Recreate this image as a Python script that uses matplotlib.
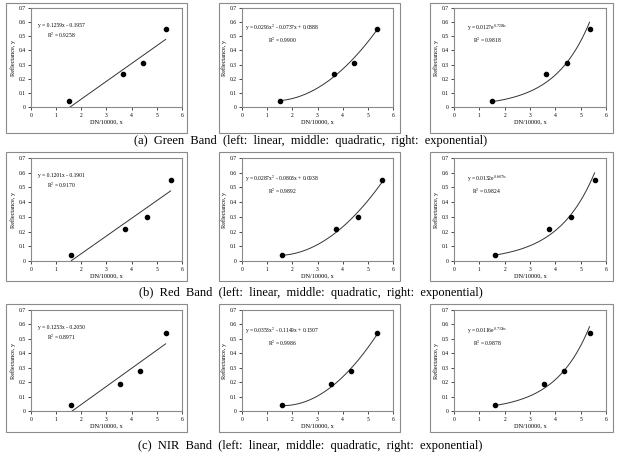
import numpy as np
import matplotlib
matplotlib.use("Agg")
import matplotlib.pyplot as plt
from matplotlib.patches import Rectangle

plt.rcParams['font.family'] = ['Liberation Serif', 'DejaVu Serif']
plt.rcParams['mathtext.fontset'] = 'stix'

BANDS = ['Green', 'Red', 'NIR']
CAPTIONS = [
    '(a)  Green  Band  (left:  linear,  middle:  quadratic,  right:  exponential)',
    '(b)  Red  Band  (left:  linear,  middle:  quadratic,  right:  exponential)',
    '(c)  NIR  Band  (left:  linear,  middle:  quadratic,  right:  exponential)',
]

# measured points per band
green_x = [1.50, 3.65, 4.45, 5.35]
green_y = [0.04, 0.23, 0.31, 0.55]
red_x = [1.60, 3.75, 4.60, 5.55]
red_y = [0.04, 0.22, 0.30, 0.55]
nir_x = [1.60, 3.55, 4.35, 5.35]
nir_y = [0.04, 0.19, 0.28, 0.54]

# fitted coefficients: linear (a, b), quadratic (a, b, c), exponential (a, k)
linear_coef = [(0.1259, -0.1957), (0.1201, -0.1901), (0.1253, -0.2050)]
quad_coef = [(0.0296, -0.0737, 0.0888), (0.0287, -0.0803, 0.0938), (0.0353, -0.1149, 0.1307)]
exp_coef = [(0.0127, 0.7204), (0.0132, 0.6875), (0.0116, 0.7326)]
r2_linear = ['0.9258', '0.9170', '0.8971']
r2_quad = ['0.9900', '0.9892', '0.9986']
r2_exp = ['0.9818', '0.9824', '0.9878']

xs = [green_x, red_x, nir_x]
ys = [green_y, red_y, nir_y]

W, H = 621, 458
fig = plt.figure(figsize=(W / 100, H / 100), dpi=100)

# pixel layout (top-origin)
inner_cols = [(31, 182), (242, 393), (454, 606)]
outer_cols = [(6, 187), (219, 400), (430, 613)]
inner_rows = [(8, 107), (158, 261), (310, 411)]
outer_rows = [(3, 133), (152, 281), (304, 432)]
caption_y = [141, 293, 446]
text_x = [1.2, 1.6, 1.3]


def px_rect(x0, x1, y0, y1):
    return [x0 / W, 1 - y1 / H, (x1 - x0) / W, (y1 - y0) / H]


for r in range(3):
    bx = np.array(xs[r])
    by = np.array(ys[r])
    t = np.linspace(bx.min(), bx.max(), 200)
    a, b = linear_coef[r]
    qa, qb, qc = quad_coef[r]
    ea, ek = exp_coef[r]
    fits = [
        (a * t + b,
         'y = {:.4f}x - {:.4f}\nR$^2$ = {}'.format(a, -b, r2_linear[r])),
        (qa * t ** 2 + qb * t + qc,
         'y = {:.4f}x$^2$ - {:.4f}x + {:.4f}\nR$^2$ = {}'.format(qa, -qb, qc, r2_quad[r])),
        (ea * np.exp(ek * t),
         'y = {:.4f}e$^{{{:.4f}x}}$\nR$^2$ = {}'.format(ea, ek, r2_exp[r])),
    ]
    for c in range(3):
        ix0, ix1 = inner_cols[c]
        iy0, iy1 = inner_rows[r]
        ax = fig.add_axes(px_rect(ix0, ix1, iy0, iy1))
        ox0, ox1 = outer_cols[c]
        oy0, oy1 = outer_rows[r]
        fig.patches.append(Rectangle((ox0 / W, 1 - oy1 / H), (ox1 - ox0) / W, (oy1 - oy0) / H,
                                     transform=fig.transFigure, fill=False,
                                     edgecolor='#8a8a8a', linewidth=0.8))
        fy, label = fits[c]
        ax.plot(t, fy, color='#333333', linewidth=0.7)
        ax.plot(bx, by, 'o', color='black', markersize=3)
        ax.set_xlim(0, 6)
        ax.set_ylim(0, 0.7)
        ax.set_xticks(range(7))
        ax.set_yticks(np.arange(0, 0.71, 0.1))
        ax.set_yticklabels(['0'] + ['{:.1f}'.format(v) for v in np.arange(0.1, 0.71, 0.1)])
        ax.tick_params(labelsize=4, length=2, width=0.5, pad=2)
        for s in ax.spines.values():
            s.set_color('#8a8a8a')
            s.set_linewidth(0.8)
        ax.set_xlabel('DN/10000, x', fontsize=4.5, labelpad=1.5)
        ax.set_ylabel('Reflectance, y', fontsize=4.5, labelpad=2)
        ax.text(text_x[c], 0.595, label, fontsize=4, ha='center', va='top', linespacing=1.3)
    fig.text(0.5, 1 - caption_y[r] / H, CAPTIONS[r], ha='center', va='center', fontsize=9)

fig.savefig('out.png', dpi=100)
